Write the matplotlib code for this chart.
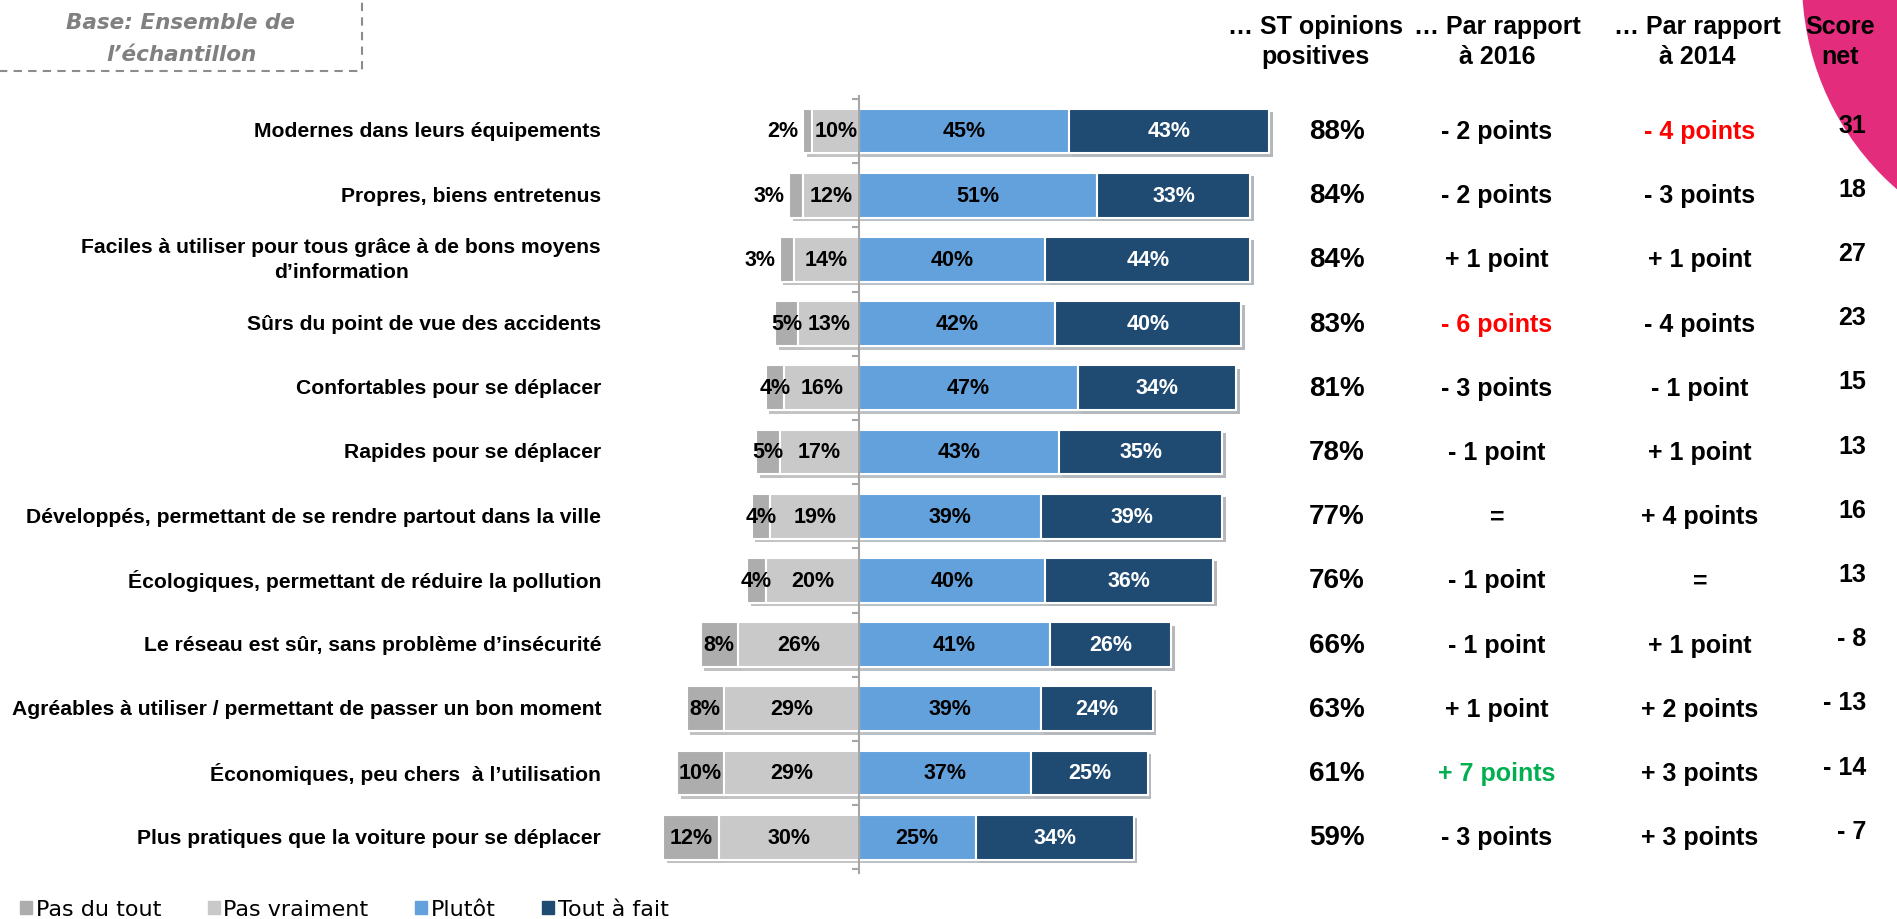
import numpy as np
import matplotlib
matplotlib.use("Agg")
from matplotlib import pyplot as plt
from matplotlib import font_manager
from matplotlib.patches import Rectangle, Ellipse, Patch
import matplotlib.patheffects as pe

categories = [
    "Modernes dans leurs équipements",
    "Propres, biens entretenus",
    "Faciles à utiliser pour tous grâce à de bons moyens\nd’information",
    "Sûrs du point de vue des accidents",
    "Confortables pour se déplacer",
    "Rapides pour se déplacer",
    "Développés, permettant de se rendre partout dans la ville",
    "Écologiques, permettant de réduire la pollution",
    "Le réseau est sûr, sans problème d’insécurité",
    "Agréables à utiliser / permettant de passer un bon moment",
    "Économiques, peu chers  à l’utilisation",
    "Plus pratiques que la voiture pour se déplacer",
]
pas_du_tout = [2, 3, 3, 5, 4, 5, 4, 4, 8, 8, 10, 12]
pas_vraiment = [10, 12, 14, 13, 16, 17, 19, 20, 26, 29, 29, 30]
plutot = [45, 51, 40, 42, 47, 43, 39, 40, 41, 39, 37, 25]
tout_a_fait = [43, 33, 44, 40, 34, 35, 39, 36, 26, 24, 25, 34]

st_positives = ["88%", "84%", "84%", "83%", "81%", "78%", "77%", "76%", "66%", "63%", "61%", "59%"]
vs_2016 = ["- 2 points", "- 2 points", "+ 1 point", "- 6 points", "- 3 points", "- 1 point",
           "=", "- 1 point", "- 1 point", "+ 1 point", "+ 7 points", "- 3 points"]
vs_2014 = ["- 4 points", "- 3 points", "+ 1 point", "- 4 points", "- 1 point", "+ 1 point",
           "+ 4 points", "=", "+ 1 point", "+ 2 points", "+ 3 points", "+ 3 points"]
score_net = ["31", "18", "27", "23", "15", "13", "16", "13", "- 8", "- 13", "- 14", "- 7"]

headers = ["… ST opinions\npositives", "… Par rapport\nà 2016", "… Par rapport\nà 2014", "Score\nnet"]
legend_labels = ["Pas du tout", "Pas vraiment", "Plutôt", "Tout à fait"]

# couleurs speciales (rouge = baisse significative, vert = hausse)
rouge, vert = "#FF0000", "#00B050"
couleurs_2016 = ["black"] * 12
couleurs_2016[3] = rouge
couleurs_2016[10] = vert
couleurs_2014 = ["black"] * 12
couleurs_2014[0] = rouge

c_pdt, c_pv, c_plutot, c_taf = "#ADADAD", "#C9C9C9", "#63A1DC", "#1F4A72"

installed = {f.name for f in font_manager.fontManager.ttflist}
police = "Liberation Sans Narrow" if "Liberation Sans Narrow" in installed else "Liberation Sans"
plt.rcParams["font.family"] = [police, "DejaVu Sans"]

W, H = 1897, 920
fig = plt.figure(figsize=(W / 100, H / 100), dpi=100)
ax = fig.add_axes([0, 0, 1, 1])
px_pct = 4.66   # pixels par point de %
x0 = 859        # position du zero
y0, dy = 132, 64.2
ax.set_xlim(-x0 / px_pct, (W - x0) / px_pct)
ax.set_ylim((H - y0) / dy, -y0 / dy)
ax.axis("off")

# forme rose en haut a droite
fig.add_artist(Ellipse((2078 / W, 1 + 18 / H), 2 * 276 / W, 2 * 276 / H,
                       transform=fig.transFigure, facecolor="#E32D7C", edgecolor="none", zorder=-1))

y = np.arange(len(categories))
pv = -np.array(pas_vraiment)
pdt = -np.array(pas_du_tout)
ombre = [pe.SimplePatchShadow(offset=(2.5, -2.5), alpha=0.3), pe.Normal()]
kw = dict(height=0.7, edgecolor="white", linewidth=1.5, zorder=2)
barres = [
    ax.barh(y, pdt, left=pv, color=c_pdt, **kw),
    ax.barh(y, pv, color=c_pv, **kw),
    ax.barh(y, plutot, color=c_plutot, **kw),
    ax.barh(y, tout_a_fait, left=plutot, color=c_taf, **kw),
]
for b in barres:
    for p in b.patches:
        p.set_path_effects(ombre)

# axe vertical au zero avec petites graduations
ax.plot([0, 0], [-0.55, len(categories) - 0.45], color="#A6A6A6", lw=1.5, zorder=3)
for b in np.arange(-0.5, len(categories), 1.0):
    ax.plot([-1.3, 0], [b, b], color="#A6A6A6", lw=1.5, zorder=3)

fs_bar = 15.5
for i in range(len(categories)):
    # pas du tout
    v = pas_du_tout[i]
    gauche = -(pas_vraiment[i] + v)
    if v <= 3:
        ax.text(gauche - 1, i, f"{v}%", ha="right", va="center", fontsize=fs_bar, weight="bold", zorder=4)
    else:
        ax.text(gauche + v / 2, i, f"{v}%", ha="center", va="center", fontsize=fs_bar, weight="bold", zorder=4)
    ax.text(-pas_vraiment[i] / 2, i, f"{pas_vraiment[i]}%", ha="center", va="center",
            fontsize=fs_bar, weight="bold", zorder=4)
    ax.text(plutot[i] / 2, i, f"{plutot[i]}%", ha="center", va="center",
            fontsize=fs_bar, weight="bold", zorder=4)
    ax.text(plutot[i] + tout_a_fait[i] / 2, i, f"{tout_a_fait[i]}%", ha="center", va="center",
            fontsize=fs_bar, weight="bold", color="white", zorder=4)

    ax.text((601 - x0) / px_pct, i, categories[i], ha="right", va="center", multialignment="center",
            fontsize=15.2, weight="bold", linespacing=1.4)
    ax.text((1337 - x0) / px_pct, i, st_positives[i], ha="center", va="center", fontsize=20, weight="bold")
    ax.text((1497 - x0) / px_pct, i, vs_2016[i], ha="center", va="center", fontsize=18, weight="bold",
            color=couleurs_2016[i])
    ax.text((1700 - x0) / px_pct, i, vs_2014[i], ha="center", va="center", fontsize=18, weight="bold",
            color=couleurs_2014[i])
    ax.text((1866 - x0) / px_pct, i - 0.1, score_net[i], ha="right", va="center", fontsize=18, weight="bold")

# en-tetes des colonnes
for xh, h in zip([1315, 1497, 1697, 1840], headers):
    fig.text(xh / W, 1 - 42 / H, h, ha="center", va="center", fontsize=18, weight="bold", linespacing=1.35)

# encadre "Base"
fig.add_artist(Rectangle((-5 / W, 1 - 72 / H), 367 / W, 80 / H, transform=fig.transFigure,
                         fill=False, ls=(0, (4, 3)), ec="#8C8C8C", lw=1.5))
fig.text(181 / W, 1 - 39 / H, "Base: Ensemble de\nl’échantillon", ha="center", va="center",
         style="italic", weight="bold", color="#808080", fontsize=15.5, family="DejaVu Sans",
         linespacing=1.7)

# legende
poignees = [Patch(color=c) for c in [c_pdt, c_pv, c_plutot, c_taf]]
fig.legend(poignees, legend_labels, loc="lower left", bbox_to_anchor=(0.0, -0.022), ncol=4,
           frameon=False, handlelength=0.55, handleheight=0.55, handletextpad=0.15,
           columnspacing=2.1, prop={"family": "DejaVu Sans", "size": 16})

fig.savefig("out.png", dpi=100)
